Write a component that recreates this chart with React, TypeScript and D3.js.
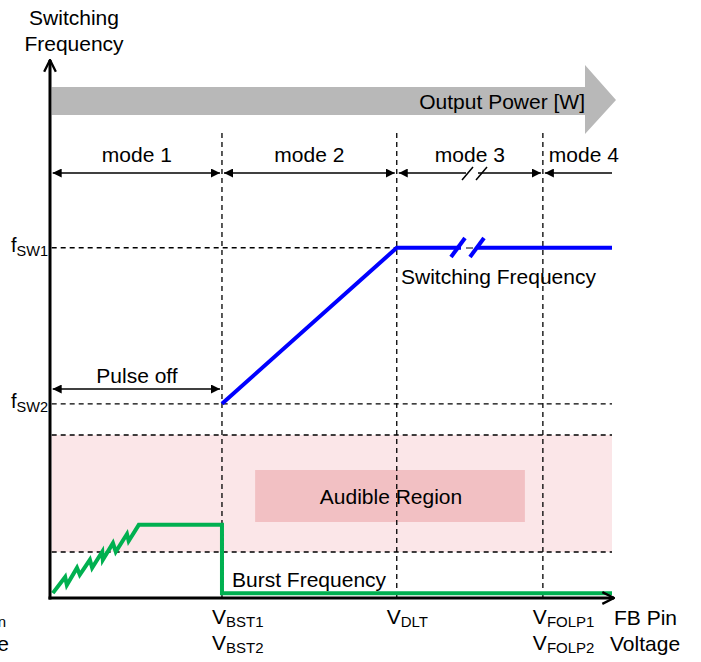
import * as d3 from "d3";
import { useEffect, useRef } from "react";

// schematic units: x = FB pin voltage (0-100), y = switching frequency (0-100)
const xMarks = [
  { id: "bst", v: 30.6, lines: ["BST1", "BST2"] },
  { id: "dlt", v: 61.7, lines: ["DLT"] },
  { id: "folp", v: 87.7, lines: ["FOLP1", "FOLP2"] },
];
const modes = [
  { label: "mode 1", from: 0.3, to: 30.6 },
  { label: "mode 2", from: 30.6, to: 61.7 },
  { label: "mode 3", from: 61.7, to: 87.7 },
  { label: "mode 4", from: 87.7, to: 100 },
];
const fSW1 = 65.1;
const fSW2 = 36.1;
const audibleBand = [8.55, 30.3];
const switchingFreq: [number, number][] = [
  [30.6, 36.1],
  [61.7, 65.1],
  [100, 65.1],
];
const burstFreq: [number, number][] = [
  [0.5, 0.9], [2.7, 3.9], [3.0, 2.4], [4.8, 5.6], [5.3, 4.3], [7.1, 7.1],
  [7.5, 5.6], [9.3, 8.6], [9.4, 7.1], [11.2, 10.2], [11.7, 8.6], [13.7, 11.9],
  [14.0, 10.6], [15.8, 13.6], [30.6, 13.6], [30.6, 0.9], [100, 0.9],
];

export default function App() {
  const svgRef = useRef<SVGSVGElement | null>(null);

  useEffect(() => {
    const width = 701;
    const height = 662;
    const x = d3.scaleLinear().domain([0, 100]).range([50, 612]);
    const y = d3.scaleLinear().domain([0, 100]).range([598, 60]);
    const font = "'Liberation Sans', Arial, sans-serif";
    const fs = 21;

    const svg = d3.select(svgRef.current);
    svg.selectAll("*").remove();
    svg.attr("width", width).attr("height", height);

    const defs = svg.append("defs");
    defs
      .append("marker")
      .attr("id", "tri")
      .attr("viewBox", "0 0 10 10")
      .attr("refX", 10)
      .attr("refY", 5)
      .attr("markerWidth", 9)
      .attr("markerHeight", 9)
      .attr("markerUnits", "userSpaceOnUse")
      .attr("orient", "auto-start-reverse")
      .append("path")
      .attr("d", "M0,0 L10,5 L0,10 Z")
      .attr("fill", "#000");
    defs
      .append("marker")
      .attr("id", "open")
      .attr("viewBox", "0 0 12 12")
      .attr("refX", 11)
      .attr("refY", 6)
      .attr("markerWidth", 14)
      .attr("markerHeight", 14)
      .attr("markerUnits", "userSpaceOnUse")
      .attr("orient", "auto")
      .append("path")
      .attr("d", "M1,1 L11,6 L1,11")
      .attr("fill", "none")
      .attr("stroke", "#000")
      .attr("stroke-width", 2);

    const g = svg.append("g").attr("font-family", font).attr("fill", "#000");

    // audible region
    g.append("rect")
      .attr("x", x(0.3))
      .attr("y", y(audibleBand[1]))
      .attr("width", x(100) - x(0.3))
      .attr("height", y(audibleBand[0]) - y(audibleBand[1]))
      .attr("fill", "#fbe6e8");
    g.append("rect")
      .attr("x", x(36.5))
      .attr("y", 470)
      .attr("width", x(84.5) - x(36.5))
      .attr("height", 52)
      .attr("fill", "#f2c0c3");

    // output power arrow
    g.append("path")
      .attr(
        "d",
        `M${x(0.3)},87 L585,87 L585,65 L616,100 L585,134 L585,115 L${x(0.3)},115 Z`
      )
      .attr("fill", "#b8b8b8");
    g.append("text")
      .attr("x", 585)
      .attr("y", 109)
      .attr("text-anchor", "end")
      .attr("font-size", fs)
      .text("Output Power [W]");
    g.append("text")
      .attr("x", 391)
      .attr("y", 504)
      .attr("text-anchor", "middle")
      .attr("font-size", fs)
      .text("Audible Region");

    // dashed guides
    const dash = "5,4";
    xMarks.forEach((m) => {
      g.append("line")
        .attr("x1", x(m.v))
        .attr("x2", x(m.v))
        .attr("y1", 133)
        .attr("y2", y(0))
        .attr("stroke", "#000")
        .attr("stroke-width", 1.3)
        .attr("stroke-dasharray", dash);
    });
    [
      { v: fSW1, to: 61.7 },
      { v: fSW2, to: 100 },
      { v: audibleBand[1], to: 100 },
      { v: audibleBand[0], to: 100 },
    ].forEach((h) => {
      g.append("line")
        .attr("x1", x(0.3))
        .attr("x2", x(h.to))
        .attr("y1", y(h.v))
        .attr("y2", y(h.v))
        .attr("stroke", "#000")
        .attr("stroke-width", 1.3)
        .attr("stroke-dasharray", dash);
    });

    // mode arrows
    const modeY = 173;
    modes.forEach((m, i) => {
      const last = i === modes.length - 1;
      g.append("line")
        .attr("x1", x(m.from) + (i === 0 ? 1 : 2))
        .attr("x2", last ? x(m.to) : x(m.to) - 2)
        .attr("y1", modeY)
        .attr("y2", modeY)
        .attr("stroke", "#000")
        .attr("stroke-width", 1.5)
        .attr("marker-start", "url(#tri)")
        .attr("marker-end", last ? null : "url(#tri)");
      g.append("text")
        .attr("x", last ? x(m.from) + 6 : (x(m.from) + x(m.to)) / 2)
        .attr("y", 162)
        .attr("text-anchor", last ? "start" : "middle")
        .attr("font-size", fs)
        .text(m.label);
    });
    // break mark on mode 3 arrow
    g.append("rect").attr("x", 466).attr("y", 168).attr("width", 12).attr("height", 10).attr("fill", "#fff");
    [462, 476].forEach((bx) => {
      g.append("line")
        .attr("x1", bx)
        .attr("y1", 180)
        .attr("x2", bx + 11)
        .attr("y2", 167)
        .attr("stroke", "#000")
        .attr("stroke-width", 1.5);
    });

    // pulse off arrow
    g.append("line")
      .attr("x1", x(0.3) + 1)
      .attr("x2", x(30.6) - 2)
      .attr("y1", 389)
      .attr("y2", 389)
      .attr("stroke", "#000")
      .attr("stroke-width", 1.5)
      .attr("marker-start", "url(#tri)")
      .attr("marker-end", "url(#tri)");
    g.append("text")
      .attr("x", 137)
      .attr("y", 383)
      .attr("text-anchor", "middle")
      .attr("font-size", fs)
      .text("Pulse off");

    // switching frequency (blue)
    const line = d3
      .line<[number, number]>()
      .x((d) => x(d[0]))
      .y((d) => y(d[1]));
    g.append("path")
      .attr("d", line(switchingFreq))
      .attr("fill", "none")
      .attr("stroke", "#0000ff")
      .attr("stroke-width", 4);
    g.append("rect").attr("x", 461).attr("y", 243).attr("width", 17).attr("height", 10).attr("fill", "#fff");
    g.append("line").attr("x1", 466).attr("x2", 473).attr("y1", 248).attr("y2", 248).attr("stroke", "#000").attr("stroke-width", 1);
    [457, 476].forEach((bx) => {
      g.append("line")
        .attr("x1", bx - 6)
        .attr("y1", 257)
        .attr("x2", bx + 8)
        .attr("y2", 238)
        .attr("stroke", "#0000ff")
        .attr("stroke-width", 4);
    });
    g.append("text")
      .attr("x", 401)
      .attr("y", 284)
      .attr("font-size", fs)
      .text("Switching Frequency");

    // burst frequency (green)
    g.append("path")
      .attr("d", line(burstFreq))
      .attr("fill", "none")
      .attr("stroke", "#00b050")
      .attr("stroke-width", 4)
      .attr("stroke-linejoin", "miter");
    g.append("text")
      .attr("x", 232)
      .attr("y", 587)
      .attr("font-size", fs)
      .text("Burst Frequency");

    // axes
    g.append("line")
      .attr("x1", x(0))
      .attr("x2", x(0))
      .attr("y1", y(0) + 1.5)
      .attr("y2", 60)
      .attr("stroke", "#000")
      .attr("stroke-width", 3)
      .attr("marker-end", "url(#open)");
    g.append("line")
      .attr("x1", x(0) - 1.5)
      .attr("x2", 614)
      .attr("y1", y(0))
      .attr("y2", y(0))
      .attr("stroke", "#000")
      .attr("stroke-width", 3)
      .attr("marker-end", "url(#open)");

    // y labels
    g.append("text").attr("x", 74).attr("y", 25).attr("text-anchor", "middle").attr("font-size", fs).text("Switching");
    g.append("text").attr("x", 74).attr("y", 51).attr("text-anchor", "middle").attr("font-size", fs).text("Frequency");
    [
      { v: fSW1, sub: "SW1" },
      { v: fSW2, sub: "SW2" },
    ].forEach((f) => {
      const t = g.append("text").attr("x", 11).attr("y", y(f.v) + 4).attr("font-size", 20);
      t.append("tspan").text("f");
      t.append("tspan").attr("font-size", 14.5).attr("dy", 4).text(f.sub);
    });

    // x labels
    xMarks.forEach((m) => {
      m.lines.forEach((s, i) => {
        const t = g
          .append("text")
          .attr("x", x(m.v) - 10)
          .attr("y", 624 + i * 26)
          .attr("font-size", fs);
        t.append("tspan").text("V");
        t.append("tspan").attr("font-size", 15).attr("dy", 3).text(s);
      });
    });
    g.append("text").attr("x", 614).attr("y", 625).attr("font-size", fs).text("FB Pin");
    g.append("text").attr("x", 610).attr("y", 651).attr("font-size", fs).text("Voltage");
    // clipped origin labels at left edge
    g.append("text").attr("x", 6).attr("y", 627).attr("text-anchor", "end").attr("font-size", 15).text("min");
    g.append("text").attr("x", 9).attr("y", 651).attr("text-anchor", "end").attr("font-size", fs).text("Voltage");
  }, []);

  return (
    <svg
      ref={svgRef}
      style={{ position: "absolute", left: 0, top: 0, background: "#fff" }}
    />
  );
}
